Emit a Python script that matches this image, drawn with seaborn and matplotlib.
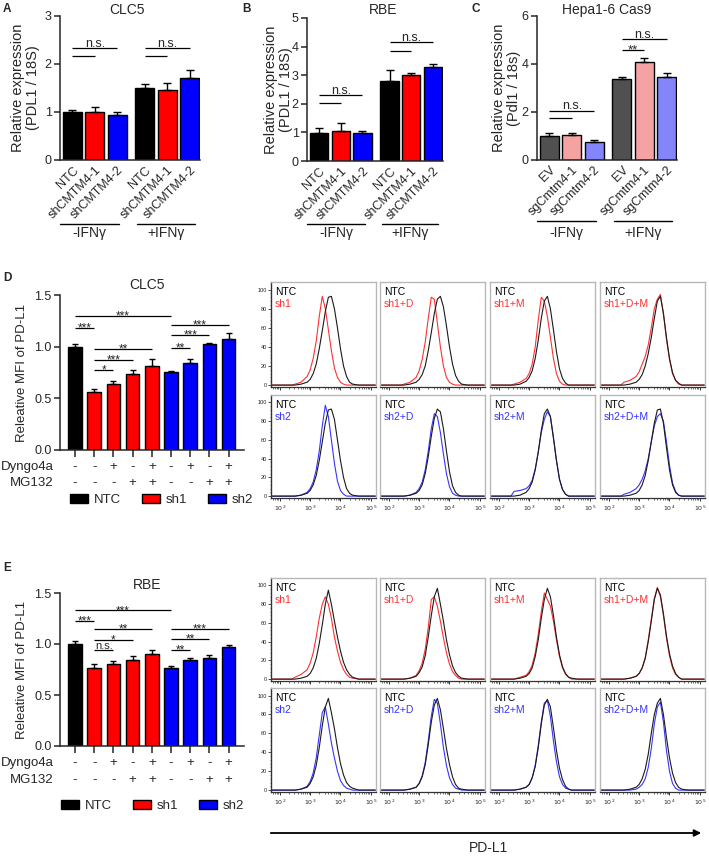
import numpy as np
import pandas as pd
import matplotlib
matplotlib.use("Agg")
import matplotlib.pyplot as plt
import seaborn as sns
from matplotlib.patches import Patch

# ---------------- data ----------------
qpcr_labels_h = ["NTC", "shCMTM4-1", "shCMTM4-2", "NTC", "shCMTM4-1", "shCMTM4-2"]
qpcr_labels_m = ["EV", "sgCmtm4-1", "sgCmtm4-2", "EV", "sgCmtm4-1", "sgCmtm4-2"]
ifn_groups = ["-IFNγ", "+IFNγ"]

A_mean = [1.00, 0.99, 0.94, 1.49, 1.46, 1.70]
A_sem = [0.05, 0.11, 0.05, 0.09, 0.15, 0.18]
B_mean = [0.99, 1.06, 0.97, 2.78, 3.00, 3.30]
B_sem = [0.15, 0.26, 0.08, 0.39, 0.07, 0.09]
C_mean = [1.00, 1.04, 0.76, 3.36, 4.10, 3.47]
C_sem = [0.14, 0.07, 0.07, 0.11, 0.14, 0.17]

# significance: (bar i, bar j, height, label)
A_sig = [(0, 2, 2.34, "n.s."), (0, 1, 2.17, ""), (3, 5, 2.34, "n.s."), (3, 4, 2.17, "")]
B_sig = [(0, 2, 2.31, "n.s."), (0, 1, 2.04, ""), (3, 5, 4.15, "n.s."), (3, 4, 3.86, "")]
C_sig = [(0, 2, 2.06, "n.s."), (0, 1, 1.75, ""), (3, 5, 5.03, "n.s."), (3, 4, 4.58, "**")]

mfi_group = ["NTC", "sh1", "sh1", "sh1", "sh1", "sh2", "sh2", "sh2", "sh2"]
dyngo4a = ["-", "-", "+", "-", "+", "-", "+", "-", "+"]
mg132 = ["-", "-", "-", "+", "+", "-", "-", "+", "+"]
D_mean = [1.00, 0.565, 0.635, 0.735, 0.816, 0.752, 0.845, 1.022, 1.074]
D_sem = [0.03, 0.022, 0.033, 0.039, 0.061, 0.013, 0.032, 0.017, 0.061]
E_mean = [1.00, 0.766, 0.800, 0.848, 0.906, 0.760, 0.840, 0.864, 0.972]
E_sem = [0.033, 0.036, 0.035, 0.039, 0.034, 0.023, 0.027, 0.033, 0.016]
D_sig = [(0, 5, 1.30, "***"), (0, 1, 1.18, "***"), (1, 4, 0.977, "**"), (1, 3, 0.871, "***"),
         (1, 2, 0.774, "*"), (5, 8, 1.21, "***"), (5, 7, 1.113, "***"), (5, 6, 0.984, "**")]
E_sig = [(0, 5, 1.33, "***"), (0, 1, 1.226, "***"), (1, 4, 1.144, "**"), (1, 3, 1.043, "*"),
         (1, 2, 0.94, "n.s."), (5, 8, 1.151, "***"), (5, 7, 1.047, "**"), (5, 6, 0.94, "**")]

# flow histograms (x = log10 PD-L1, y = % of max)
flow_log10 = [1.75, 2.4, 2.5, 2.7, 2.9, 3.0, 3.1, 3.2, 3.3, 3.4, 3.5, 3.6, 3.7, 3.8, 3.9,
              4.0, 4.1, 4.2, 4.3, 4.4, 4.6, 5.15]
row_labels_sh1 = ["sh1", "sh1+D", "sh1+M", "sh1+D+M"]
row_labels_sh2 = ["sh2", "sh2+D", "sh2+M", "sh2+D+M"]

D_ntc_row1 = [
    [0, 0, 0, 1, 3, 6, 12, 22, 38, 57, 77, 92, 93, 80, 60, 38, 20, 9, 3, 1, 0, 0],
    [0, 0, 0, 1, 3, 6, 11, 20, 36, 55, 75, 90, 93, 82, 62, 40, 22, 10, 4, 1, 0, 0],
    [0, 0, 0, 1, 4, 8, 15, 28, 47, 70, 88, 93, 80, 58, 35, 17, 7, 2, 0, 0, 0, 0],
    [0, 0, 0, 1, 3, 6, 11, 20, 33, 50, 70, 88, 93, 75, 50, 28, 13, 5, 2, 0, 0, 0]]
D_sh1_row1 = [
    [0, 0, 1, 3, 9, 16, 28, 46, 72, 93, 80, 58, 36, 18, 8, 3, 1, 0, 0, 0, 0, 0],
    [0, 0, 1, 3, 8, 15, 27, 45, 70, 92, 90, 65, 40, 20, 8, 3, 1, 0, 0, 0, 0, 0],
    [0, 0, 1, 3, 7, 12, 22, 40, 68, 92, 88, 72, 50, 28, 12, 4, 1, 0, 0, 0, 0, 0],
    [0, 0, 3, 5, 9, 14, 22, 30, 42, 60, 80, 90, 95, 75, 48, 27, 12, 5, 1, 0, 0, 0]]
D_ntc_row2 = [
    [0, 0, 0, 1, 3, 6, 12, 22, 38, 58, 78, 92, 93, 82, 60, 38, 20, 8, 3, 1, 0, 0],
    [0, 0, 0, 1, 3, 6, 12, 24, 42, 64, 83, 93, 90, 72, 48, 26, 11, 4, 1, 0, 0, 0],
    [0, 0, 0, 1, 4, 8, 15, 28, 47, 70, 88, 93, 85, 62, 38, 18, 7, 2, 0, 0, 0, 0],
    [0, 0, 0, 1, 3, 6, 12, 22, 38, 58, 78, 92, 93, 78, 52, 28, 12, 4, 1, 0, 0, 0]]
D_sh2_row2 = [
    [0, 0, 0, 1, 4, 8, 15, 28, 48, 75, 97, 85, 60, 35, 16, 6, 2, 0, 0, 0, 0, 0],
    [0, 0, 0, 1, 4, 8, 15, 28, 48, 72, 88, 85, 68, 45, 24, 10, 3, 1, 0, 0, 0, 0],
    [0, 0, 5, 6, 8, 11, 17, 29, 47, 68, 82, 90, 85, 63, 38, 18, 7, 2, 0, 0, 0, 0],
    [0, 0, 2, 4, 8, 12, 18, 27, 40, 58, 75, 85, 88, 80, 58, 33, 14, 5, 1, 0, 0, 0]]
E_ntc_row1 = [
    [0, 0, 0, 1, 3, 6, 12, 22, 38, 58, 80, 95, 80, 62, 45, 30, 18, 10, 5, 2, 0, 0],
    [0, 0, 0, 1, 3, 7, 13, 25, 45, 68, 88, 97, 80, 62, 42, 26, 14, 7, 3, 1, 0, 0],
    [0, 0, 0, 1, 3, 6, 12, 24, 42, 65, 85, 97, 88, 68, 45, 26, 13, 6, 2, 1, 0, 0],
    [0, 0, 0, 1, 3, 6, 12, 22, 40, 62, 85, 97, 90, 70, 46, 27, 14, 6, 2, 0, 0, 0]]
E_sh1_row1 = [
    [0, 0, 2, 5, 10, 17, 28, 45, 65, 80, 88, 80, 65, 45, 30, 18, 10, 5, 2, 1, 0, 0],
    [0, 0, 0, 1, 4, 9, 17, 32, 55, 85, 88, 78, 62, 44, 28, 16, 8, 4, 1, 0, 0, 0],
    [0, 0, 0, 2, 4, 8, 15, 28, 48, 72, 92, 85, 78, 62, 42, 24, 12, 5, 2, 0, 0, 0],
    [0, 0, 0, 1, 3, 6, 12, 23, 42, 64, 86, 98, 88, 68, 44, 25, 12, 5, 2, 0, 0, 0]]
E_ntc_row2 = [
    [0, 0, 0, 1, 3, 7, 14, 26, 45, 68, 88, 97, 82, 65, 45, 28, 16, 8, 4, 2, 0, 0],
    [0, 0, 0, 1, 3, 7, 14, 27, 48, 72, 90, 97, 85, 65, 44, 27, 14, 6, 2, 1, 0, 0],
    [0, 0, 0, 1, 3, 6, 13, 25, 45, 70, 90, 96, 88, 66, 42, 23, 11, 4, 1, 0, 0, 0],
    [0, 0, 0, 1, 3, 6, 12, 22, 38, 60, 80, 92, 97, 80, 56, 34, 18, 8, 3, 1, 0, 0]]
E_sh2_row2 = [
    [0, 0, 0, 1, 4, 9, 18, 34, 58, 82, 88, 70, 50, 34, 20, 10, 5, 2, 1, 0, 0, 0],
    [0, 0, 0, 1, 3, 7, 15, 29, 52, 78, 96, 92, 70, 45, 26, 13, 6, 2, 1, 0, 0, 0],
    [0, 0, 0, 1, 3, 6, 13, 26, 47, 72, 92, 95, 78, 52, 30, 14, 6, 2, 1, 0, 0, 0],
    [0, 0, 0, 0, 1, 3, 6, 12, 24, 44, 70, 88, 93, 72, 42, 20, 7, 2, 0, 0, 0, 0]]

# ---------------- style ----------------
sns.set_theme(style="ticks")
plt.rcParams["font.family"] = ["Liberation Sans", "DejaVu Sans"]
plt.rcParams["axes.linewidth"] = 1.1
plt.rcParams["xtick.major.width"] = 1.1
plt.rcParams["ytick.major.width"] = 1.1

W, H = 709, 856
fig = plt.figure(figsize=(W / 100, H / 100), dpi=100)


def fx(p):
    return p / W


def fy(p):
    return 1 - p / H


def add_ax(l, t, r, b):
    return fig.add_axes([l / W, 1 - b / H, (r - l) / W, (b - t) / H])


RED = "#ff0000"
BLUE = "#0000ff"
col_h = ["#000000", RED, BLUE] * 2
col_m = ["#505050", "#f4a2a2", "#8585fb"] * 2
pos6 = [0, 1, 2, 3.25, 4.25, 5.25]
pos9 = list(range(9))


def bar_panel(ax, pos, means, sems, colors, width, capsize):
    df = pd.DataFrame({"pos": pos, "val": means, "bar": [f"b{i}" for i in range(len(pos))]})
    sns.barplot(data=df, x="pos", y="val", hue="bar", palette=colors, native_scale=True,
                dodge=False, width=width, edgecolor="black", linewidth=1.0, saturation=1,
                errorbar=None, legend=False, ax=ax)
    ax.errorbar(pos, means, yerr=[np.zeros(len(means)), sems], fmt="none", ecolor="black",
                elinewidth=1.0, capsize=capsize, capthick=1.0, zorder=5)
    sns.despine(ax=ax)
    ax.set_xlabel("")


def sig(ax, pos, specs, fs):
    for i, j, y, txt in specs:
        x0, x1 = pos[i], pos[j]
        ax.plot([x0, x1], [y, y], color="black", lw=0.9, solid_capstyle="butt", clip_on=False)
        if txt:
            off = -2.6 if "*" in txt else 0.8
            ax.annotate(txt, xy=((x0 + x1) / 2, y), xytext=(0, off), textcoords="offset points",
                        ha="center", va="baseline", fontsize=fs if "*" in txt else fs - 0.5)


def qpcr_panel(box, means, sems, colors, labels, sigs, ymax, yticks, ylabel, title, tx, letter, lx,
               label_x, line_y, text_y):
    ax = add_ax(*box)
    bar_panel(ax, pos6, means, sems, colors, 0.85, 3)
    ax.set_xlim(-0.56, 5.72)
    ax.set_ylim(0, ymax)
    ax.set_yticks(yticks)
    ax.tick_params(axis="y", labelsize=9, length=4, pad=2)
    ax.set_xticks(pos6)
    ax.set_xticklabels(labels, rotation=45, ha="right", rotation_mode="anchor", fontsize=9)
    ax.tick_params(axis="x", length=0, pad=3)
    ax.set_ylabel(ylabel, fontsize=10.5, linespacing=1.1)
    ax.yaxis.set_label_coords(label_x, 0.5)
    sig(ax, pos6, sigs, 9.5)
    tr = ax.get_xaxis_transform()
    for (x0, x1), g in zip([(-0.55, 2.1), (2.9, 5.5)], ifn_groups):
        ax.plot([x0, x1], [line_y, line_y], color="black", lw=1.0, transform=tr, clip_on=False)
        ax.text((x0 + x1) / 2, text_y, g, transform=tr, ha="center", va="center", fontsize=10)
    fig.text(fx(tx), fy(10), title, ha="center", va="center", fontsize=10)
    fig.text(fx(lx), fy(9), letter, ha="left", va="center", fontsize=8.5, fontweight="bold")
    return ax


qpcr_panel((60, 16, 200, 160), A_mean, A_sem, col_h, qpcr_labels_h, A_sig, 3, [0, 1, 2, 3],
           "Relative expression\n(PDL1 / 18S)", "CLC5", 127, "A", 3, -0.145, -0.445, -0.51)
qpcr_panel((307, 18, 443, 161), B_mean, B_sem, col_h, qpcr_labels_h, B_sig, 5, [0, 1, 2, 3, 4, 5],
           "Relative expression\n(PDL1 / 18S)", "RBE", 383, "B", 242, -0.105, -0.44, -0.5)
qpcr_panel((537, 16, 677, 160), C_mean, C_sem, col_m, qpcr_labels_m, C_sig, 6, [0, 2, 4, 6],
           "Relative expression\n(Pdl1 / 18s)", "Hepa1-6 Cas9", 607, "C", 472, -0.115, -0.424, -0.51)

mfi_colors = {"NTC": "#000000", "sh1": RED, "sh2": BLUE}


def mfi_panel(box, means, sems, sigs, title, ty, letter, ly, row_y, leg_xy):
    ax = add_ax(*box)
    bar_panel(ax, pos9, means, sems, [mfi_colors[g] for g in mfi_group], 0.7, 2.5)
    ax.set_xlim(-0.78, 8.8)
    ax.set_ylim(0, 1.5)
    ax.set_yticks([0, 0.5, 1.0, 1.5])
    ax.set_yticklabels(["0.0", "0.5", "1.0", "1.5"])
    ax.tick_params(axis="y", labelsize=9, length=4, pad=2)
    ax.set_xticks(pos9)
    ax.set_xticklabels([])
    ax.tick_params(axis="x", length=5)
    ax.set_ylabel("Releative MFI of PD-L1", fontsize=9.5)
    ax.yaxis.set_label_coords(-0.175, 0.5)
    sig(ax, pos9, sigs, 8.5)
    tr = ax.get_xaxis_transform()
    for name, vals, yy in [("Dyngo4a", dyngo4a, row_y[0]), ("MG132", mg132, row_y[1])]:
        ax.text(-1.1, yy, name, transform=tr, ha="right", va="center", fontsize=9.5)
        for i, v in zip(pos9, vals):
            ax.text(i, yy, v, transform=tr, ha="center", va="center", fontsize=9.5)
    handles = [Patch(facecolor=mfi_colors[k], edgecolor="black", linewidth=1.0) for k in ["NTC", "sh1", "sh2"]]
    fig.legend(handles, ["NTC", "sh1", "sh2"], loc="center left",
               bbox_to_anchor=(fx(leg_xy[0]), fy(leg_xy[1])), ncol=3, frameon=False, fontsize=9.5,
               handlelength=1.35, handleheight=0.6, handletextpad=0.45, columnspacing=1.6,
               borderpad=0, borderaxespad=0)
    fig.text(fx(147), fy(ty), title, ha="center", va="center", fontsize=10)
    fig.text(fx(3), fy(ly), letter, ha="left", va="center", fontsize=8.5, fontweight="bold")
    return ax


mfi_panel((60, 295, 244, 450), D_mean, D_sem, D_sig, "CLC5", 285, "D", 278, (-0.11, -0.213), (70, 500))
mfi_panel((60, 593, 244, 746), E_mean, E_sem, E_sig, "RBE", 585, "E", 568, (-0.111, -0.225), (61, 806))

# ---------------- flow histograms ----------------
HRED = "#ff3030"
HBLUE = "#3535ff"
cols = [(271, 376), (380, 485), (490, 595), (600, 705)]
minor_x = [np.log10(k * 10 ** n) for n in range(1, 5) for k in range(2, 10)]
minor_x = [v for v in minor_x if 1.71 < v < 5.17]


def hist_row(t, b, ntc_rows, oth_rows, color, labels, show_x):
    for c, (l, r) in enumerate(cols):
        ax = add_ax(l, t, r, b)
        sns.lineplot(x=flow_log10, y=oth_rows[c], ax=ax, color=color, lw=0.8)
        sns.lineplot(x=flow_log10, y=ntc_rows[c], ax=ax, color="#1a1a1a", lw=0.8)
        ax.set_xlim(1.71, 5.17)
        ax.set_ylim(-2, 108)
        ax.set_xlabel("")
        ax.set_ylabel("")
        for s in ["top", "right", "left"]:
            ax.spines[s].set_color("#b8b8b8")
            ax.spines[s].set_linewidth(1.0)
        ax.spines["bottom"].set_color("#333333")
        ax.spines["bottom"].set_linewidth(0.9)
        ax.set_xticks([2, 3, 4, 5])
        ax.set_xticks(minor_x, minor=True)
        ax.set_xticklabels([r"$10^2$", r"$10^3$", r"$10^4$", r"$10^5$"])
        ax.tick_params(axis="x", which="major", length=2.5, width=0.7, labelsize=4.5, pad=1.5,
                       labelbottom=show_x, color="#333333")
        ax.tick_params(axis="x", which="minor", length=1.3, width=0.5, color="#333333")
        if c == 0:
            ax.spines["left"].set_color("#333333")
            ax.set_yticks([0, 20, 40, 60, 80, 100])
            ax.set_yticks(list(range(4, 104, 4)), minor=True)
            ax.tick_params(axis="y", which="major", length=2, width=0.6, labelsize=4, pad=1,
                           color="#333333")
            ax.tick_params(axis="y", which="minor", length=1, width=0.4, color="#333333")
        else:
            ax.set_yticks([])
        ax.text(0.035, 0.905, "NTC", transform=ax.transAxes, ha="left", va="center",
                fontsize=7.5, color="black")
        ax.text(0.035, 0.79, labels[c], transform=ax.transAxes, ha="left", va="center",
                fontsize=7.5, color=color)


hist_row(282, 387, D_ntc_row1, D_sh1_row1, HRED, row_labels_sh1, False)
hist_row(395, 498, D_ntc_row2, D_sh2_row2, HBLUE, row_labels_sh2, True)
hist_row(578, 681, E_ntc_row1, E_sh1_row1, HRED, row_labels_sh1, False)
hist_row(688, 792, E_ntc_row2, E_sh2_row2, HBLUE, row_labels_sh2, True)

fig.add_artist(matplotlib.patches.FancyArrowPatch((fx(268), fy(833)), (fx(704), fy(833)),
                                                  transform=fig.transFigure, arrowstyle="-|>",
                                                  mutation_scale=10, color="black", lw=1.3))
fig.text(fx(488), fy(848), "PD-L1", ha="center", va="center", fontsize=10)

fig.savefig("out.png", dpi=100)
